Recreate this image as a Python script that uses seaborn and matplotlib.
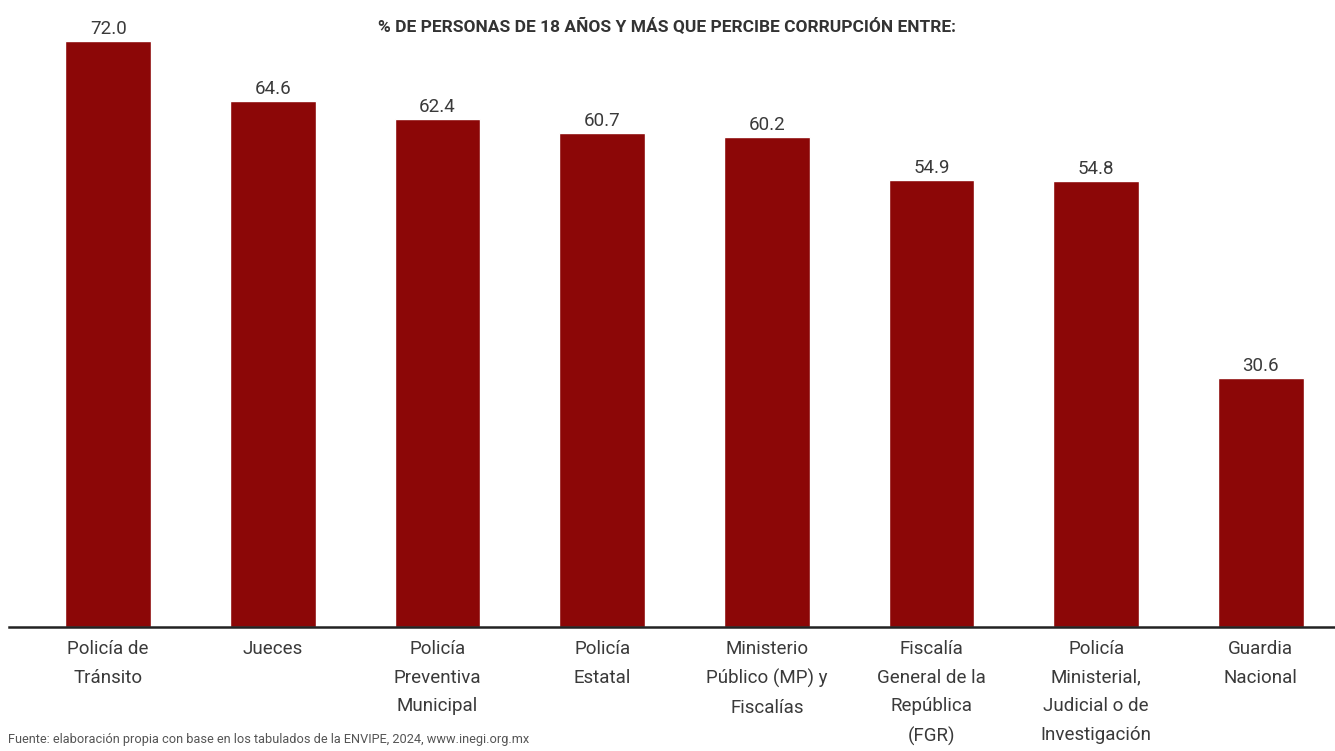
import matplotlib
matplotlib.use("Agg")
import matplotlib.pyplot as plt
import seaborn as sns
import pandas as pd

categorias = [
    "Policía de\nTránsito",
    "Jueces",
    "Policía\nPreventiva\nMunicipal",
    "Policía\nEstatal",
    "Ministerio\nPúblico (MP) y\nFiscalías",
    "Fiscalía\nGeneral de la\nRepública\n(FGR)",
    "Policía\nMinisterial,\nJudicial o de\nInvestigación",
    "Guardia\nNacional",
]
porcentajes = [72.0, 64.6, 62.4, 60.7, 60.2, 54.9, 54.8, 30.6]

titulo = "% DE PERSONAS DE 18 AÑOS Y MÁS QUE PERCIBE CORRUPCIÓN ENTRE:"
fuente = "Fuente: elaboración propia con base en los tabulados de la ENVIPE, 2024, www.inegi.org.mx"

df = pd.DataFrame({"categoria": categorias, "valor": porcentajes})

sns.set_style("white")
plt.rcParams["font.family"] = ["Roboto", "DejaVu Sans"]

fig = plt.figure(figsize=(13.35, 7.51), dpi=100)
ax = fig.add_axes([0.007, 0.165, 0.993, 0.835])

rojo = "#8c0707"
sns.barplot(data=df, x="categoria", y="valor", color=rojo, width=0.52,
            saturation=1, ax=ax)

for i, v in enumerate(porcentajes):
    ax.annotate(f"{v:.1f}", (i, v), xytext=(0, 2), textcoords="offset points",
                ha="center", va="bottom", fontsize=13.5, color="#3a3a3a")

ax.set_xlim(-0.6, 7.45)
ax.set_ylim(0, 77)
ax.set_xlabel("")
ax.set_ylabel("")
ax.set_yticks([])
ax.tick_params(axis="x", length=0, pad=9, labelsize=13.5, labelcolor="#3a3a3a")
for lbl in ax.get_xticklabels():
    lbl.set_linespacing(1.78)
    lbl.set_verticalalignment("top")

for side in ["left", "right", "top"]:
    ax.spines[side].set_visible(False)
ax.spines["bottom"].set_color("#222222")
ax.spines["bottom"].set_linewidth(1.8)

fig.text(0.5, 0.965, titulo, ha="center", va="center", fontsize=12.5,
         fontweight="bold", color="#333333")
fig.text(0.006, 0.015, fuente, ha="left", va="center", fontsize=9.2,
         color="#555555")

fig.savefig("out.png", dpi=100)
